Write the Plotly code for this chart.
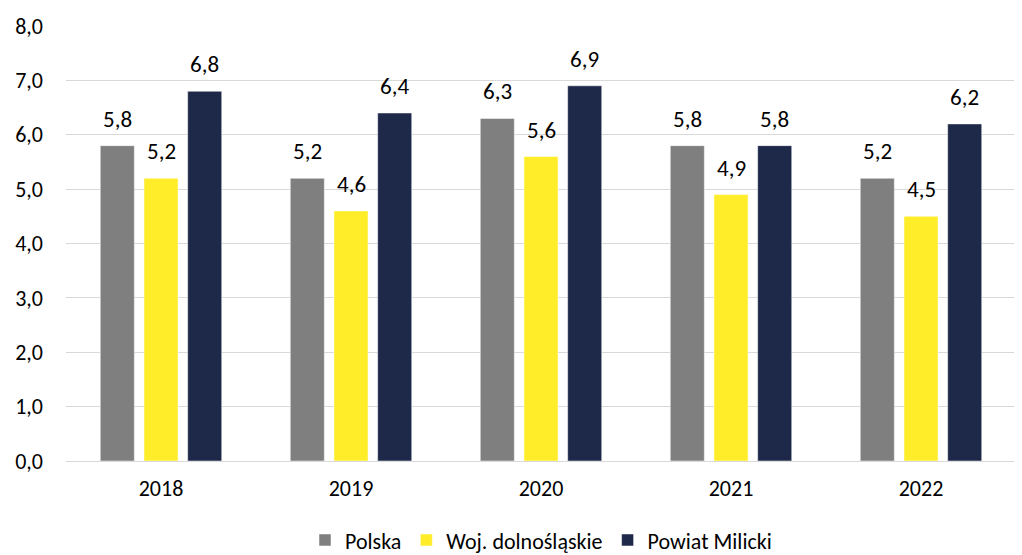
import plotly.graph_objects as go

# DATA
years = ['2018', '2019', '2020', '2021', '2022']
polska = [5.8, 5.2, 6.3, 5.8, 5.2]
dolnoslaskie = [5.2, 4.6, 5.6, 4.9, 4.5]
milicki = [6.8, 6.4, 6.9, 5.8, 6.2]

series = [
    ('Polska', polska, '#7F7F7F'),
    ('Woj. dolnośląskie', dolnoslaskie, '#FFED29'),
    ('Powiat Milicki', milicki, '#1E2848'),
]

FONT = 'Carlito, Lato, sans-serif'
# page body adds an 8px offset, so the plot area is shifted back by 8px
W, H = 1014, 555
MARGIN = dict(l=58, r=6, t=18, b=102, autoexpand=False)
BARGAP = 0.31
GROUPGAP = 0.22

fig = go.Figure()
for name, vals, col in series:
    fig.add_trace(go.Bar(
        x=years, y=vals, name=name,
        marker=dict(color=col, line=dict(color='rgba(255,255,255,0.5)', width=1)),
        hovertemplate='%{x}<br>' + name + ': %{y:.1f}<extra></extra>'
    ))

# value labels above bars (x given as category index)
cat_w = (W - MARGIN['l'] - MARGIN['r']) / len(years)
slot = round(cat_w * (1 - BARGAP) / 3, 1)
for i, (name, vals, col) in enumerate(series):
    for j, v in enumerate(vals):
        fig.add_annotation(
            x=j, y=v, text=f'{v:.1f}'.replace('.', ','),
            showarrow=False, yanchor='bottom', yshift=11,
            xshift=(i - 1) * slot,
            font=dict(family=FONT, size=23, color='#000000')
        )

fig.update_layout(
    width=W, height=H,
    paper_bgcolor='white', plot_bgcolor='white',
    margin=MARGIN,
    barmode='group', bargap=BARGAP, bargroupgap=GROUPGAP,
    separators=',.',
    font=dict(family=FONT, size=20, color='#000000'),
    xaxis=dict(type='category', range=[-0.5, 4.5], autorange=False, showgrid=False,
               showline=True, linecolor='#D9D9D9', linewidth=1, ticks='',
               ticklabelstandoff=8, tickfont=dict(size=22)),
    yaxis=dict(range=[0, 8], autorange=False, dtick=1, tickformat='.1f', showgrid=True,
               gridcolor='#D9D9D9', gridwidth=1, zeroline=False, showline=False,
               ticks='', ticklabelstandoff=22, tickfont=dict(size=22)),
    legend=dict(orientation='h', x=0.5, xanchor='center', y=-0.182, yanchor='middle',
                font=dict(size=22), traceorder='normal'),
    showlegend=True
)

fig.write_html('out.html')
